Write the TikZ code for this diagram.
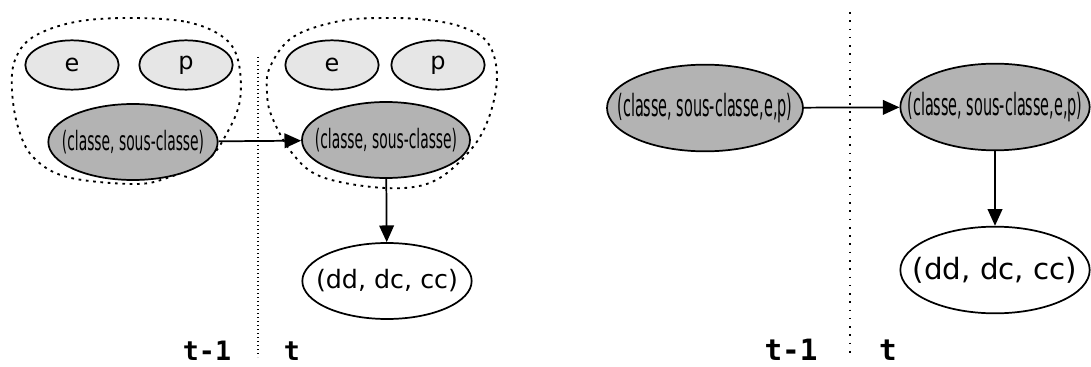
\documentclass[tikz,border=0pt]{standalone}
\usepackage{fontspec}
\setmainfont{DejaVu Sans}
\newfontfamily\condfont[FakeStretch=0.52]{DejaVu Sans}
\newfontfamily\narrowfont[FakeStretch=0.47]{DejaVu Sans}
\newfontfamily\timefont{DejaVu Sans Mono}
\usepackage{tikz}
\usetikzlibrary{arrows.meta,shapes.geometric}
\definecolor{varlight}{HTML}{E6E6E6}
\definecolor{vardark}{HTML}{B3B3B3}
\tikzset{
  var/.style={draw,ellipse,line width=1.3pt,inner sep=0pt},
  small/.style={var,fill=varlight,minimum width=70pt,minimum height=37pt},
  hidden/.style={var,fill=vardark},
  obs/.style={var,fill=white},
  arr/.style={line width=1.3pt,-{Triangle[length=12.5pt,width=11pt]}},
  group/.style={line width=1.4pt,dash pattern=on 2pt off 3.5pt},
  slice/.style={line width=1.3pt,dash pattern=on 1.1pt off 1.9pt},
  sparse/.style={line width=1.3pt,dash pattern=on 1.2pt off 5pt},
  tlabel/.style={anchor=base,inner sep=0pt,font=\timefont\bfseries\fontsize{20}{20}\selectfont}
}
\begin{document}
\begin{tikzpicture}[x=0.75pt,y=-0.75pt]
\useasboundingbox (0,0) rectangle (1091,367);
% left: grouped variables
\draw[group] plot[smooth cycle,tension=0.6] coordinates {(130,18) (187,22) (223,37) (238,60) (240,100) (227,133) (207,160) (167,178) (133,184) (67,177) (33,157) (18,127) (12,90) (15,60) (33,37) (75,22)};
\draw[group] plot[smooth cycle,tension=0.6] coordinates {(388,18) (428,20) (462,27) (488,43) (497,77) (488,120) (468,153) (432,182) (385,188) (322,177) (292,153) (272,117) (267,93) (270,67) (293,37) (340,21)};
\node[small,label={[font=\fontsize{18}{18}\selectfont]center:e}] (e1) at (72,65) {};
\node[small,label={[font=\fontsize{18}{18}\selectfont]center:p}] (p1) at (186,65) {};
\node[small,label={[font=\fontsize{18}{18}\selectfont]center:e}] (e2) at (332,65) {};
\node[small,label={[font=\fontsize{18}{18}\selectfont]center:p}] (p2) at (438,65) {};
\node[hidden,minimum width=127pt,minimum height=57pt,label={[font=\condfont\fontsize{20}{20}\selectfont]center:(classe, sous-classe)}] (c1) at (133,142) {};
\node[hidden,minimum width=126pt,minimum height=57pt,label={[font=\condfont\fontsize{20}{20}\selectfont]center:(classe, sous-classe)}] (c2) at (386,140) {};
\node[obs,minimum width=127pt,minimum height=57pt,label={[font=\fontsize{19}{19}\selectfont]center:(dd, dc, cc)}] (d1) at (387,281) {};
\coordinate (s1a) at (258,57);
\coordinate (s1b) at (258,357);
\draw[slice] (s1a) -- (s1b);
\draw[arr] (c1) -- (c2);
\draw[arr] (c2) -- (d1);
\node[tlabel] (tm1) at (207,360) {t-1};
\node[tlabel] (t1) at (292,360) {t};
% right: joint variable
\node[hidden,minimum width=147pt,minimum height=65pt,label={[font=\narrowfont\fontsize{23}{23}\selectfont]center:(classe, sous-classe,e,p)}] (j1) at (705,108) {};
\node[hidden,minimum width=142pt,minimum height=65pt,label={[font=\narrowfont\fontsize{23}{23}\selectfont]center:(classe, sous-classe,e,p)}] (j2) at (995,107) {};
\node[obs,minimum width=142pt,minimum height=65pt,label={[font=\fontsize{22}{22}\selectfont]center:(dd, dc, cc)}] (d2) at (995,270) {};
\coordinate (s2a) at (850,12);
\coordinate (s2b) at (850,355);
\draw[sparse] (s2a) -- (s2b);
\draw[arr] (j1) -- (j2);
\draw[arr] (j2) -- (d2);
\node[tlabel,font=\timefont\bfseries\fontsize{22}{22}\selectfont] (tm2) at (791,360) {t-1};
\node[tlabel,font=\timefont\bfseries\fontsize{22}{22}\selectfont] (t2) at (888,360) {t};
\end{tikzpicture}
\end{document}
